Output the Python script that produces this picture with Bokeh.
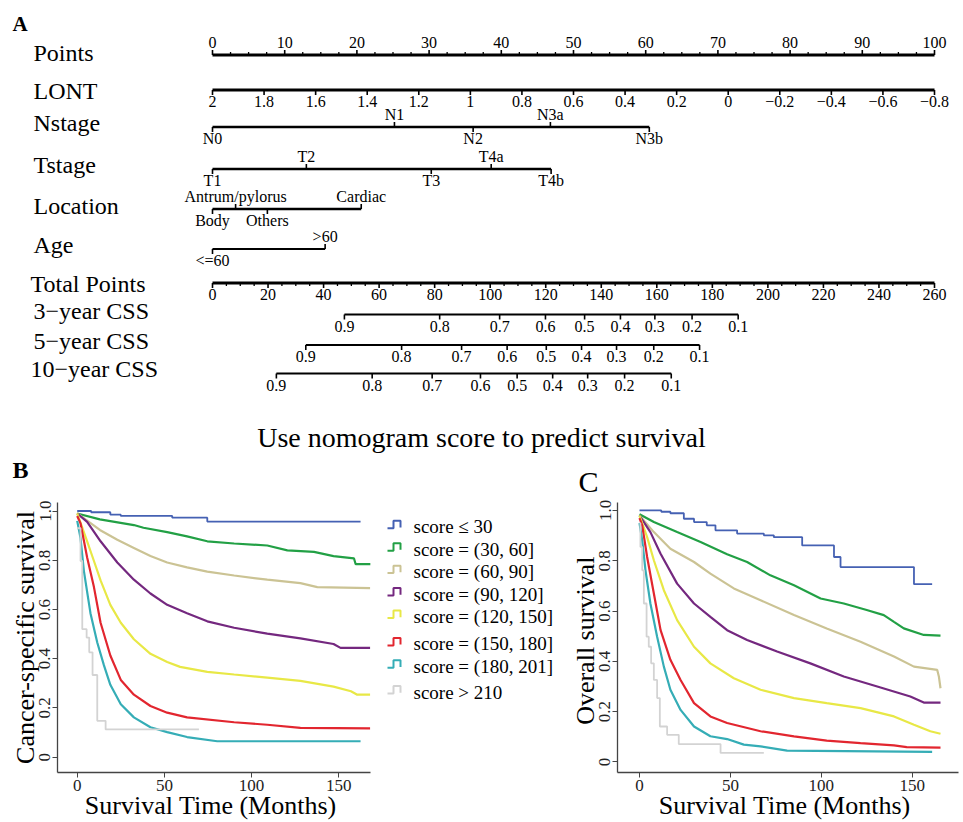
from bokeh.plotting import figure
from bokeh.models import Range1d, FixedTicker
from bokeh.layouts import column, row
from bokeh.embed import file_html
from bokeh.resources import INLINE
from bokeh.core.properties import value

SERIF = "Liberation Serif"

# ---------------- Panel A : nomogram data ----------------
points_ticks = [0, 10, 20, 30, 40, 50, 60, 70, 80, 90, 100]
lont_values = [2, 1.8, 1.6, 1.4, 1.2, 1, 0.8, 0.6, 0.4, 0.2, 0, -0.2, -0.4, -0.6, -0.8]
lont_labels = ["2", "1.8", "1.6", "1.4", "1.2", "1", "0.8", "0.6", "0.4", "0.2", "0",
               "\u22120.2", "\u22120.4", "\u22120.6", "\u22120.8"]
nstage_levels = ["N0", "N1", "N2", "N3a", "N3b"]
nstage_points = [0, 25.2, 36.1, 46.8, 60.5]
nstage_side = ["below", "above", "below", "above", "below"]
tstage_levels = ["T1", "T2", "T3", "T4a", "T4b"]
tstage_points = [0, 13.0, 30.3, 38.6, 46.9]
tstage_side = ["below", "above", "below", "above", "below"]
location_levels = ["Body", "Antrum/pylorus", "Others", "Cardiac"]
location_points = [0, 3.2, 7.6, 20.6]
location_side = ["below", "above", "below", "above"]
age_levels = ["<=60", ">60"]
age_points = [0, 15.6]
age_side = ["below", "above"]
total_ticks = [0, 20, 40, 60, 80, 100, 120, 140, 160, 180, 200, 220, 240, 260]
total_max = 260
css_labels = ["0.9", "0.8", "0.7", "0.6", "0.5", "0.4", "0.3", "0.2", "0.1"]
css3_total = [47.5, 81.8, 103.4, 119.9, 134.0, 146.9, 159.3, 172.7, 189.3]
css5_total = [33.6, 68.1, 89.7, 106.1, 120.2, 132.9, 145.5, 158.9, 175.4]
css10_total = [23.0, 57.5, 79.1, 96.5, 109.7, 122.5, 135.1, 148.4, 165.2]

# ---------------- Panels B / C : Kaplan-Meier data ----------------
group_labels = ["score  \u2264 30", "score = (30, 60]", "score = (60, 90]", "score = (90, 120]",
                "score = (120, 150]", "score = (150, 180]", "score = (180, 201]", "score > 210"]
group_colors = ["#4561b3", "#22a045", "#cbc394", "#74287f", "#e8e846", "#e2262f", "#35adb6", "#d3d3d3"]

# Panel B (cancer-specific survival)
b_le30_t = [0, 8, 19, 25, 54.5, 74.6, 162.5]
b_le30_s = [1.0, 0.995, 0.985, 0.980, 0.973, 0.957, 0.957]
b_30_60_t = [0, 13, 32.5, 38, 51.6, 63, 74.6, 90, 109, 120.5, 135.8, 147, 158.7, 159.7, 168.3]
b_30_60_s = [0.99, 0.966, 0.943, 0.932, 0.914, 0.897, 0.877, 0.868, 0.860, 0.840, 0.834, 0.817, 0.808, 0.784, 0.784]
b_60_90_t = [0, 13, 23, 32.5, 42, 51.6, 63, 74.6, 90, 109, 128, 137.7, 168]
b_60_90_s = [0.99, 0.923, 0.883, 0.850, 0.817, 0.791, 0.771, 0.754, 0.738, 0.721, 0.707, 0.691, 0.687]
b_90_120_t = [0, 5.7, 13.4, 23, 32.5, 42, 51.6, 63, 74.6, 90, 109, 128, 147, 151, 168]
b_90_120_s = [0.99, 0.956, 0.877, 0.791, 0.721, 0.665, 0.619, 0.585, 0.552, 0.526, 0.502, 0.483, 0.460, 0.444, 0.444]
b_120_150_t = [0, 5.7, 9.6, 13.4, 19, 25, 32.5, 42, 51.6, 59, 74.6, 90, 109, 128, 147, 157, 160.6, 168]
b_120_150_s = [0.99, 0.877, 0.797, 0.718, 0.619, 0.546, 0.479, 0.420, 0.387, 0.367, 0.347, 0.336, 0.323, 0.310, 0.287, 0.268, 0.254, 0.254]
b_150_180_t = [0, 1.9, 5.7, 9.6, 13.4, 19, 25, 32.5, 42, 51.6, 63, 90, 109, 128, 168]
b_150_180_s = [0.98, 0.950, 0.811, 0.691, 0.546, 0.413, 0.314, 0.254, 0.208, 0.181, 0.162, 0.142, 0.132, 0.119, 0.117]
b_180_201_t = [0, 1.9, 3.8, 7.6, 11.5, 15.3, 19, 25, 32.5, 42, 51.6, 63, 80.3, 162.5]
b_180_201_s = [0.96, 0.890, 0.758, 0.585, 0.466, 0.374, 0.294, 0.215, 0.162, 0.122, 0.102, 0.082, 0.065, 0.065]
b_gt210_t = [0, 1.9, 2.9, 5.4, 6.9, 8.8, 11.5, 16.3, 69.8]
b_gt210_s = [0.93, 0.797, 0.52, 0.486, 0.426, 0.334, 0.148, 0.113, 0.113]

# Panel C (overall survival)
c_le30_t = [0, 12, 17, 24.4, 30, 37, 41.8, 53.7, 68.4, 73.9, 89.5, 107, 110.6, 151, 161]
c_le30_s = [1.0, 0.995, 0.989, 0.967, 0.954, 0.941, 0.921, 0.908, 0.901, 0.894, 0.861, 0.815, 0.775, 0.707, 0.707]
c_30_60_t = [0, 7.9, 20.7, 33.6, 48.2, 59.2, 72, 85, 99.6, 112.4, 125, 134.4, 140, 145.4, 156.4, 165.6]
c_30_60_s = [0.985, 0.954, 0.914, 0.875, 0.826, 0.795, 0.742, 0.703, 0.650, 0.630, 0.604, 0.584, 0.557, 0.531, 0.505, 0.502]
c_60_90_t = [0, 7.9, 17, 30, 39, 51.9, 66.6, 85, 103, 121.6, 140, 151, 163.8, 164.7, 165.6]
c_60_90_s = [0.98, 0.914, 0.848, 0.795, 0.749, 0.690, 0.643, 0.584, 0.531, 0.478, 0.419, 0.379, 0.366, 0.340, 0.293]
c_90_120_t = [0, 6, 11.6, 20.7, 30, 39, 48.2, 59.2, 75.7, 94, 112.4, 130.8, 149, 156.4, 165.6]
c_90_120_s = [0.98, 0.914, 0.828, 0.709, 0.630, 0.577, 0.524, 0.485, 0.439, 0.392, 0.340, 0.300, 0.260, 0.236, 0.236]
c_120_150_t = [0, 4.2, 7.9, 13.4, 20.7, 30, 39, 51.9, 66.6, 85, 103, 121.6, 140, 151, 160, 165.6]
c_120_150_s = [0.98, 0.894, 0.802, 0.683, 0.564, 0.458, 0.392, 0.333, 0.287, 0.254, 0.234, 0.214, 0.181, 0.148, 0.122, 0.112]
c_150_180_t = [0, 1.5, 4.2, 7.9, 11.6, 17, 22.6, 30, 39, 48.2, 66.6, 85, 103, 121.6, 140, 147, 165.6]
c_150_180_s = [0.97, 0.941, 0.815, 0.670, 0.524, 0.406, 0.326, 0.234, 0.181, 0.155, 0.122, 0.102, 0.085, 0.075, 0.066, 0.059, 0.057]
c_180_201_t = [0, 1.5, 3.3, 6, 9.7, 13.4, 17, 22.6, 30, 39, 48.2, 57.4, 66.6, 81.2, 161]
c_180_201_s = [0.95, 0.881, 0.762, 0.630, 0.498, 0.379, 0.287, 0.207, 0.141, 0.102, 0.091, 0.069, 0.062, 0.045, 0.040]
c_gt210_t = [0, 0.5, 1.5, 2.4, 3.9, 5.1, 6.4, 7.9, 9.7, 11.2, 15.2, 21.6, 44.6, 68.4]
c_gt210_s = [0.95, 0.855, 0.762, 0.630, 0.498, 0.458, 0.392, 0.326, 0.254, 0.141, 0.108, 0.071, 0.036, 0.036]

b_curves = [(b_le30_t, b_le30_s, "step"), (b_30_60_t, b_30_60_s, "line"), (b_60_90_t, b_60_90_s, "line"),
            (b_90_120_t, b_90_120_s, "line"), (b_120_150_t, b_120_150_s, "line"),
            (b_150_180_t, b_150_180_s, "line"), (b_180_201_t, b_180_201_s, "line"),
            (b_gt210_t, b_gt210_s, "step")]
c_curves = [(c_le30_t, c_le30_s, "step"), (c_30_60_t, c_30_60_s, "line"), (c_60_90_t, c_60_90_s, "line"),
            (c_90_120_t, c_90_120_s, "line"), (c_120_150_t, c_120_150_s, "line"),
            (c_150_180_t, c_150_180_s, "line"), (c_180_201_t, c_180_201_s, "line"),
            (c_gt210_t, c_gt210_s, "step")]

# ================= Panel A figure (also carries the panel letters and the title) =================
W_TOP, H_TOP = 960, 497
PX_PER_PT = 7.22
X0_WIN = 212
x_start = -X0_WIN / PX_PER_PT
x_end = x_start + W_TOP / PX_PER_PT
BASE_SHIFT = 0.3   # baseline correction (fraction of font size)

top = figure(width=W_TOP, height=H_TOP, x_range=Range1d(x_start, x_end), y_range=Range1d(H_TOP, 0),
             output_backend="svg", toolbar_location=None, min_border=0,
             x_axis_location=None, y_axis_location=None)
top.grid.visible = False
top.outline_line_color = None


def wx(xw):
    return (xw - X0_WIN) / PX_PER_PT


LABEL_FS = 16
ROW_FS = 24


def txt(x, y, s, size=LABEL_FS, align="center", style="normal"):
    ys = [v - BASE_SHIFT * size for v in y]
    top.text(x=x, y=ys, text=s, text_font=value(SERIF), text_font_size=f"{size}px",
             text_align=align, text_baseline="alphabetic", text_color="black",
             text_font_style=style)


def scale(y, xs, labels, sides, lw=2.5, tick=5):
    top.segment(x0=[min(xs)], y0=[y], x1=[max(xs)], y1=[y], line_width=lw, line_color="black")
    ye = [y - tick if s == "above" else y + tick for s in sides]
    top.segment(x0=xs, y0=[y] * len(xs), x1=xs, y1=ye, line_width=1.6, line_color="black")
    yl = [y - 8 if s == "above" else y + 16.5 for s in sides]
    txt(xs, yl, labels)


def minor(y, xs, direction, tick=3):
    ye = [y - tick if direction == "above" else y + tick for _ in xs]
    top.segment(x0=xs, y0=[y] * len(xs), x1=xs, y1=ye, line_width=1.3, line_color="black")


# row titles
row_titles = ["Points", "LONT", "Nstage", "Tstage", "Location", "Age", "Total Points",
              "3\u2212year CSS", "5\u2212year CSS", "10\u2212year CSS"]
row_title_x = [33, 33, 33, 33, 33, 33, 30, 33, 33, 30]
row_title_y = [60, 97.5, 130, 171.5, 213, 251.5, 291, 317.5, 348, 375.5]
txt([wx(v) for v in row_title_x], row_title_y, row_titles, size=ROW_FS, align="left")

# Points
y_pts = 54.5
scale(y_pts, points_ticks, [str(v) for v in points_ticks], ["above"] * len(points_ticks), lw=3)
minor(y_pts, [v + k * 2.5 for v in points_ticks[:-1] for k in (1, 2, 3)], "above")

# LONT
lont_pts = [(2 - v) / 2.8 * 100 for v in lont_values]
scale(89.5, lont_pts, lont_labels, ["below"] * len(lont_pts), lw=3)

scale(126.5, nstage_points, nstage_levels, nstage_side)
scale(168.5, tstage_points, tstage_levels, tstage_side)
scale(208.5, location_points, location_levels, location_side)
scale(248.5, age_points, age_levels, age_side, lw=2)

# Total points
tot_pts = [v / total_max * 100 for v in total_ticks]
y_tot = 282.5
scale(y_tot, tot_pts, [str(v) for v in total_ticks], ["below"] * len(tot_pts), lw=3.2)
minor(y_tot, [(v + k * 5) / total_max * 100 for v in total_ticks[:-1] for k in (1, 2, 3)], "below")

# CSS scales
scale(314, [v / total_max * 100 for v in css3_total], css_labels, ["below"] * 9, lw=2)
scale(344.5, [v / total_max * 100 for v in css5_total], css_labels, ["below"] * 9, lw=2)
scale(373, [v / total_max * 100 for v in css10_total], css_labels, ["below"] * 9, lw=2)

# panel letters and title
txt([wx(12)], [30], ["A"], size=21, align="left", style="bold")
txt([wx(481)], [445], ["Use nomogram score to predict survival"], size=28)
txt([wx(12)], [477], ["B"], size=24, align="left", style="bold")
txt([wx(578)], [490], ["C"], size=30, align="left")

# ================= Panels B and C =================
H_BOT = 822 - H_TOP
TICK_FS = "17px"
AXLAB_FS = "26px"


def km_fig(width, xr, yr, ylabel, left, right, topb):
    p = figure(width=width, height=H_BOT, x_range=Range1d(*xr), y_range=Range1d(*yr),
               output_backend="svg", toolbar_location=None,
               min_border_left=left, min_border_right=right, min_border_top=topb, min_border_bottom=10)
    p.grid.visible = False
    p.outline_line_color = None
    p.xaxis.ticker = FixedTicker(ticks=[0, 50, 100, 150])
    p.yaxis.ticker = FixedTicker(ticks=[0, 0.2, 0.4, 0.6, 0.8, 1.0])
    p.yaxis.major_label_overrides = {0: "0", 1: "1.0"}
    p.yaxis.major_label_orientation = "vertical"
    for ax in (p.xaxis, p.yaxis):
        ax.axis_line_color = "#444444"
        ax.axis_line_width = 1.3
        ax.major_tick_line_color = "#444444"
        ax.major_tick_in = 0
        ax.major_tick_out = 5
        ax.minor_tick_line_color = None
        ax.major_label_text_font = SERIF
        ax.major_label_text_font_size = TICK_FS
        ax.major_label_text_color = "#222222"
        ax.major_label_standoff = 2
        ax.axis_label_text_font = SERIF
        ax.axis_label_text_font_size = AXLAB_FS
        ax.axis_label_text_font_style = "normal"
        ax.axis_label_text_color = "black"
        ax.axis_label_standoff = -3
    p.xaxis.axis_label = "Survival  Time (Months)"
    p.yaxis.axis_label = ylabel
    return p


def draw_curves(p, curves):
    for (t, s, kind), col in zip(curves, group_colors):
        if kind == "step":
            p.step(x=t, y=s, mode="after", line_color=col, line_width=1.8)
        else:
            p.line(x=t, y=s, line_color=col, line_width=2.2)


pB = km_fig(380, (-11.3, 168.2), (-0.062, 1.0346), "Cancer-specific survival", 57, 10, 0)
draw_curves(pB, b_curves)

pC = km_fig(400, (-12.1, 175.5), (-0.042, 1.0317), "Overall  survival", 57, 2, 5)
draw_curves(pC, c_curves)

# ================= Legend (between B and C) =================
LEG_FS = 19
leg = figure(width=180, height=H_BOT, x_range=Range1d(380, 560), y_range=Range1d(822, H_TOP),
             output_backend="svg", toolbar_location=None, min_border=0,
             x_axis_location=None, y_axis_location=None)
leg.grid.visible = False
leg.outline_line_color = None
leg_base = [532, 559, 586, 613, 640, 673, 700, 731]
for lab, col, b in zip(group_labels, group_colors, leg_base):
    leg.line(x=[387, 393, 393, 400, 400], y=[b - 4, b - 4, b - 13, b - 13, b - 5],
             line_color=col, line_width=2)
leg.text(x=[413] * len(group_labels), y=[b - BASE_SHIFT * LEG_FS for b in leg_base], text=group_labels,
         text_font=value(SERIF), text_font_size=f"{LEG_FS}px", text_baseline="alphabetic",
         text_align="left", text_color="black")

layout = column(top, row(pB, leg, pC))
open("out.html", "w").write(file_html(layout, INLINE))
